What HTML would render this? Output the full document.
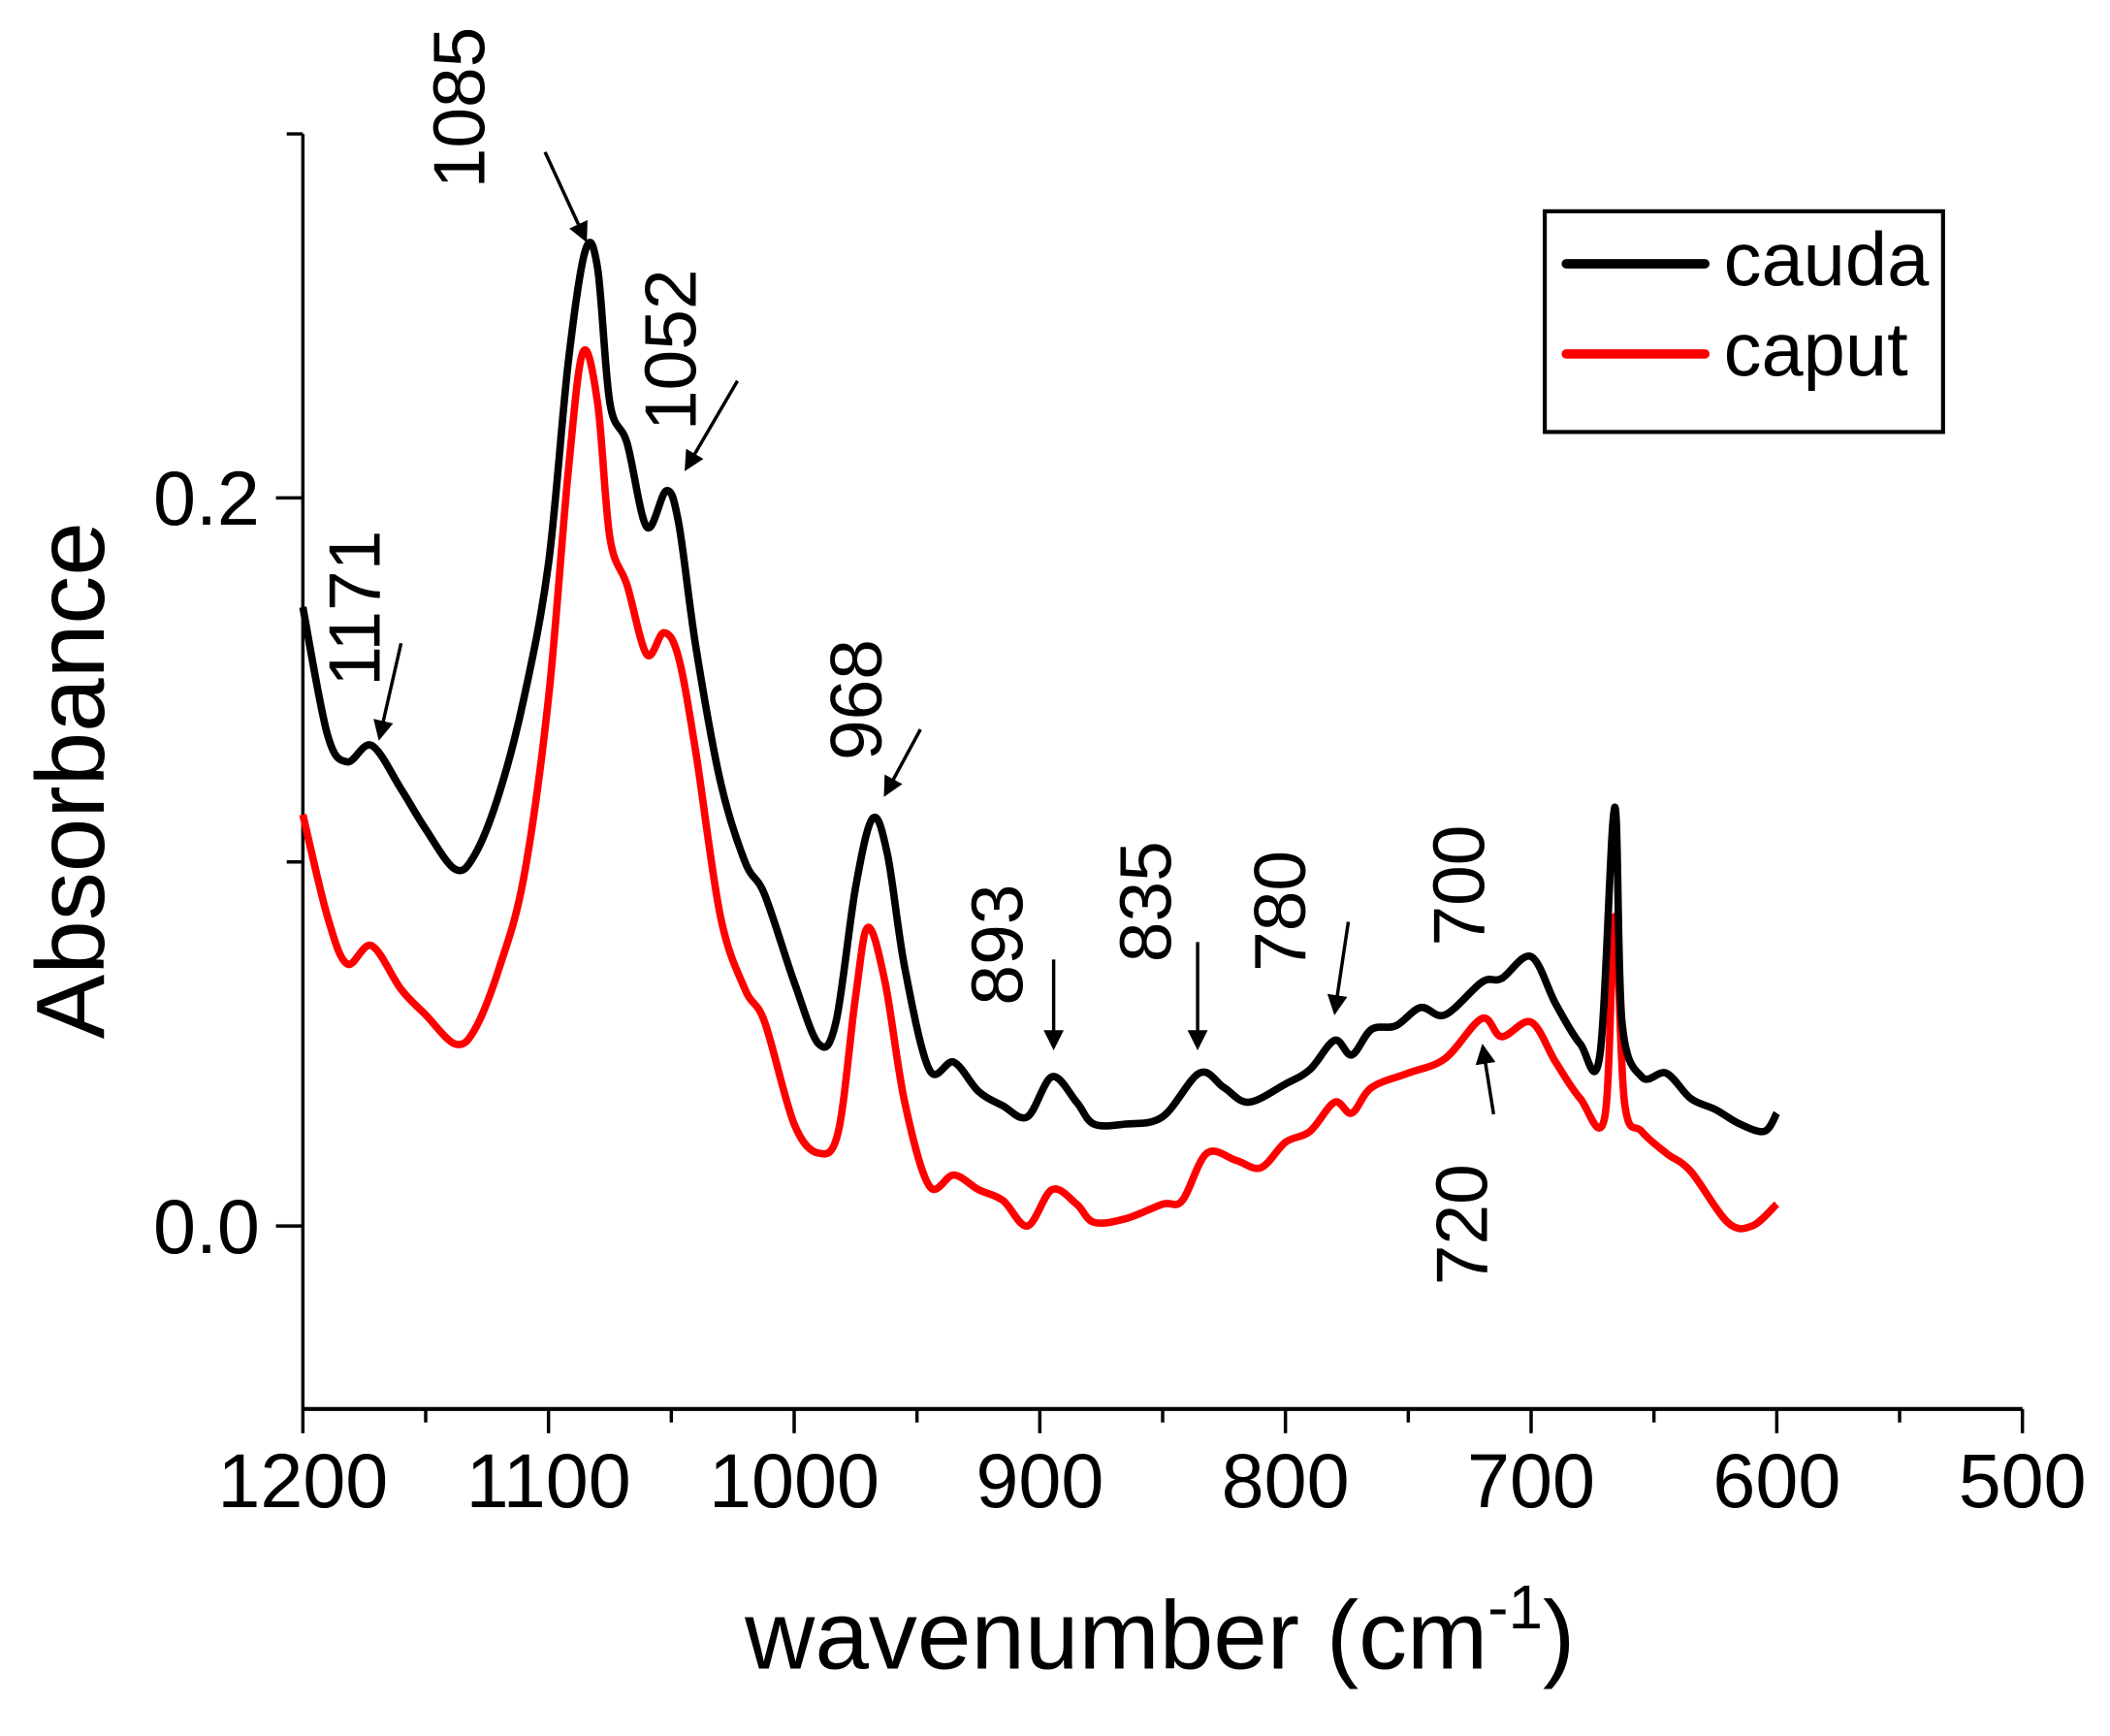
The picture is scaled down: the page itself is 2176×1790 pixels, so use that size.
<!DOCTYPE html>
<html><head><meta charset="utf-8"><style>
html,body{margin:0;padding:0;background:#fff;}
svg{display:block;font-family:"Liberation Sans",Arial,sans-serif;}
</style></head><body>
<svg id="chart" width="2176" height="1790" viewBox="0 0 1568 1290" xmlns="http://www.w3.org/2000/svg">
<defs><marker id="ah" markerWidth="6" markerHeight="6" refX="5" refY="3" orient="auto" markerUnits="strokeWidth"><path d="M0,0 L6,3 L0,6 z" fill="#000"/></marker></defs>
<g id="axes"></g>
<g id="series"></g>
<g id="annot"></g>
<text x="862" y="1240" font-size="72" text-anchor="middle">wavenumber (cm<tspan font-size="46" dy="-30">-1</tspan><tspan dy="30">)</tspan></text>
<text transform="translate(77,580) rotate(-90)" font-size="72" text-anchor="middle">Absorbance</text>
<g>
<rect x="1148" y="157" width="296" height="164" fill="none" stroke="#000" stroke-width="3"/>
<line x1="1164" y1="196" x2="1267" y2="196" stroke="#000" stroke-width="7" stroke-linecap="round"/>
<text x="1281" y="212" font-size="56">cauda</text>
<line x1="1164" y1="263" x2="1267" y2="263" stroke="#f00" stroke-width="7" stroke-linecap="round"/>
<text x="1281" y="279" font-size="56">caput</text>
</g>
</svg>
<script>
const caudaX=[1200,1190,1182,1172,1160,1150,1138,1130,1120,1110,1100,1092,1085,1080,1075,1068,1060,1052,1047,1040,1030,1020,1012,1000,990,983,975,968,962,955,945,935,925,915,905,895,885,878,865,850,835,825,815,800,790,780,773,765,755,745,735,720,712,700,690,680,672,666,663,655,645,635,625,615,605,600];
const caudaY=[0.170,0.135,0.1275,0.132,0.120,0.109,0.098,0.102,0.119,0.145,0.182,0.237,0.268,0.263,0.226,0.215,0.192,0.202,0.193,0.159,0.122,0.100,0.091,0.067,0.050,0.056,0.093,0.112,0.102,0.071,0.043,0.045,0.037,0.033,0.030,0.041,0.034,0.028,0.028,0.030,0.042,0.038,0.034,0.039,0.043,0.051,0.047,0.054,0.055,0.060,0.058,0.067,0.068,0.074,0.061,0.050,0.047,0.115,0.056,0.041,0.042,0.035,0.032,0.028,0.026,0.031];
const caputX=[1200,1190,1182,1172,1160,1150,1138,1130,1120,1110,1100,1092,1086,1080,1075,1068,1060,1053,1047,1040,1030,1020,1012,1000,990,982,975,970,963,955,945,935,925,915,905,895,885,878,865,850,842,832,820,810,800,790,780,773,765,750,735,720,712,700,690,680,670,666,662,655,645,635,620,610,600];
const caputY=[0.113,0.085,0.072,0.077,0.065,0.058,0.050,0.054,0.071,0.096,0.145,0.207,0.240,0.226,0.189,0.176,0.157,0.163,0.156,0.130,0.085,0.065,0.056,0.028,0.020,0.026,0.063,0.082,0.067,0.034,0.011,0.014,0.010,0.007,0.000,0.010,0.006,0.001,0.002,0.006,0.007,0.020,0.018,0.016,0.023,0.026,0.034,0.031,0.038,0.042,0.046,0.057,0.052,0.056,0.045,0.035,0.030,0.085,0.034,0.026,0.020,0.015,0.001,0.000,0.006];
const xTicks=[1200,1100,1000,900,800,700,600,500];
const xMinor=[1150,1050,950,850,750,650,550];
const yTickVals=[0.0,0.2];
const yTickLabels=["0.0","0.2"];
const yMinor=[0.1,0.3];
const peakLabels=["1085","1052","1171","968","893","835","780","700","720"];
const peakWn=[1085,1052,1171,968,893,835,780,700,720];

const NS="http://www.w3.org/2000/svg";
const X=v=>225+(1200-v)*(1278/700);
const Y=v=>911-v*2705;
function mk(t,a,p){const e=document.createElementNS(NS,t);for(const k in a)e.setAttribute(k,a[k]);p.appendChild(e);return e;}
const ax=document.getElementById('axes');
let l=mk('line',{x1:225,y1:Y(0.3),x2:225,y2:1047,stroke:'#000','stroke-width':2.5},ax);


l=mk('line',{x1:225,y1:1047,x2:1503,y2:1047,stroke:'#000','stroke-width':3},ax);


xTicks.forEach(v=>{const t=mk('line',{x1:X(v),y1:1047,x2:X(v),y2:1065,stroke:'#000','stroke-width':2.5},ax);


const tx=mk('text',{x:X(v),y:1120,'font-size':57,'text-anchor':'middle'},ax);tx.textContent=v;

});
xMinor.forEach(v=>{const t=mk('line',{x1:X(v),y1:1047,x2:X(v),y2:1057,stroke:'#000','stroke-width':2.5},ax);

});
yTickVals.forEach((v,i)=>{const t=mk('line',{x1:205,y1:Y(v),x2:225,y2:Y(v),stroke:'#000','stroke-width':2.5},ax);


const tx=mk('text',{x:193,y:Y(v)+20,'font-size':57,'text-anchor':'end'},ax);tx.textContent=yTickLabels[i];

});
yMinor.forEach(v=>{const t=mk('line',{x1:213,y1:Y(v),x2:225,y2:Y(v),stroke:'#000','stroke-width':2.5},ax);

});
function path(xs,ys){const p=xs.map((x,i)=>[X(x),Y(ys[i])]);let d='M'+p[0][0]+','+p[0][1];
for(let i=0;i<p.length-1;i++){const p0=p[i-1]||p[i],p1=p[i],p2=p[i+1],p3=p[i+2]||p2;
d+=' C'+(p1[0]+(p2[0]-p0[0])/6)+','+(p1[1]+(p2[1]-p0[1])/6)+' '+(p2[0]-(p3[0]-p1[0])/6)+','+(p2[1]-(p3[1]-p1[1])/6)+' '+p2[0]+','+p2[1];}return d;}
const sg=document.getElementById('series');
const s2=mk('path',{d:path(caputX,caputY),fill:'none',stroke:'#f00','stroke-width':5.5,'stroke-linejoin':'round'},sg);


const s1=mk('path',{d:path(caudaX,caudaY),fill:'none',stroke:'#000','stroke-width':5.5,'stroke-linejoin':'round'},sg);


const lblPos=[[340,80],[497,260],[262,452],[635,520],[740,702],[850,670],[950,677],[1083,658],[1085,910]];
const arrows=[[405,113,435,178],[548,283,510,348],[298,478,282,548],[684,542,658,590],[783,713,783,778],[890,700,890,778],[1002,685,992,752],[1110,828,1102,778]];
const an=document.getElementById('annot');
peakLabels.forEach((s,i)=>{const [cx,cy]=lblPos[i];const t=mk('text',{transform:`translate(${cx+20},${cy}) rotate(-90)`,'font-size':54,'text-anchor':'middle'},an);t.textContent=s;

});
arrows.forEach(a=>{const e=mk('line',{x1:a[0],y1:a[1],x2:a[2],y2:a[3],stroke:'#000','stroke-width':2.5,'marker-end':'url(#ah)'},an);

});
</script>
</body></html>
